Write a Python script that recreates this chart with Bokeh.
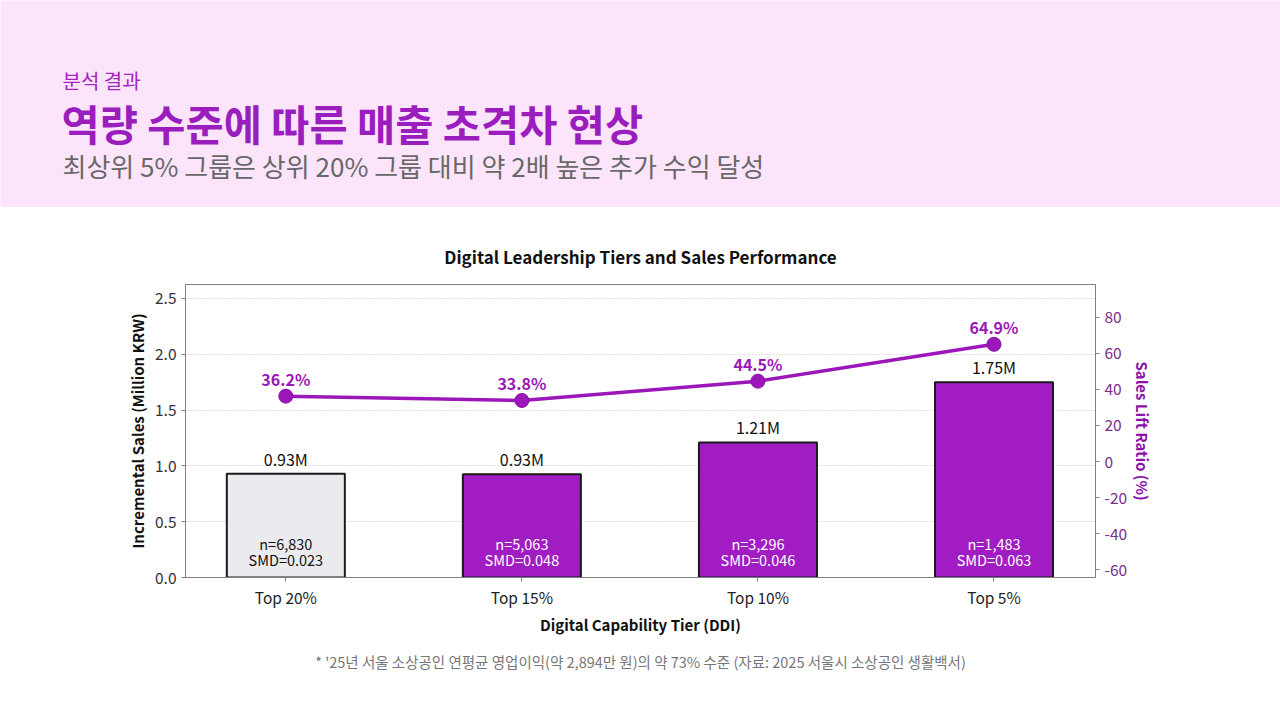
from bokeh.plotting import figure
from bokeh.models import (Range1d, LinearAxis, FixedTicker, NumeralTickFormatter,
                          Title, ColumnDataSource)
from bokeh.layouts import column
from bokeh.core.properties import value
from bokeh.embed import file_html
from bokeh.resources import INLINE

# ---------------- data ----------------
tiers = ["Top 20%", "Top 15%", "Top 10%", "Top 5%"]
sales = [0.93, 0.925, 1.21, 1.75]
sales_labels = ["0.93M", "0.93M", "1.21M", "1.75M"]
lift = [36.2, 33.8, 44.5, 64.9]
lift_labels = ["36.2%", "33.8%", "44.5%", "64.9%"]
n_labels = ["n=6,830", "n=5,063", "n=3,296", "n=1,483"]
smd_labels = ["SMD=0.023", "SMD=0.048", "SMD=0.046", "SMD=0.063"]
left_ticks = [0.0, 0.5, 1.0, 1.5, 2.0, 2.5]
right_ticks = [-60, -40, -20, 0, 20, 40, 60, 80]

eyebrow = "분석 결과"
headline = "역량 수준에 따른 매출 초격차 현상"
subline = "최상위 5% 그룹은 상위 20% 그룹 대비 약 2배 높은 추가 수익 달성"
chart_title = "Digital Leadership Tiers and Sales Performance"
footnote = "* '25년 서울 소상공인 연평균 영업이익(약 2,894만 원)의 약 73% 수준 (자료: 2025 서울시 소상공인 생활백서)"

KR = "Noto Sans CJK KR"
PINK = "#fce5fb"
PURPLE = "#a21cc4"
LINE_PURPLE = "#9c17b9"

# ---------------- header ----------------
W = 1280
HH = 207
hdr = figure(width=W, height=HH, x_range=Range1d(0, W), y_range=Range1d(0, HH),
             x_axis_type=None, y_axis_type=None, toolbar_location=None,
             output_backend="svg", min_border=0)
hdr.frame_align = False
hdr.grid.visible = False
hdr.outline_line_color = None
hdr.background_fill_color = PINK
hdr.border_fill_color = PINK

hdr.text(x=[62], y=[127], text=[eyebrow], text_font=value(KR), text_font_size="20px",
         text_color="#a424c4", text_baseline="middle", text_align="left")
hdr.text(x=[61], y=[85], text=[headline], text_font=value(KR), text_font_size="41.5px",
         text_font_style="bold", text_color="#9a1dbd", text_baseline="middle", text_align="left")
hdr.text(x=[62], y=[42], text=[subline], text_font=value(KR), text_font_size="26px",
         text_color="#686868", text_baseline="middle", text_align="left")

# ---------------- chart ----------------
xs = list(range(len(tiers)))
bar_colors = ["#ebebef"] + [PURPLE] * (len(tiers) - 1)
inner_colors = ["#111111"] + ["#ffffff"] * (len(tiers) - 1)

src = ColumnDataSource(dict(x=xs, sales=sales, sales_labels=sales_labels, lift=lift,
                            lift_labels=lift_labels, n=n_labels, smd=smd_labels,
                            color=bar_colors, inner=inner_colors, zero=[0] * len(xs)))

p = figure(width=W, height=720 - HH, x_range=Range1d(-0.425, 3.43), y_range=Range1d(0, 2.625),
           toolbar_location=None, output_backend="svg",
           min_border_left=185, min_border_right=185, min_border_top=77, min_border_bottom=143)
p.frame_align = False
p.extra_y_ranges = {"lift": Range1d(-64.2, 98.0)}
p.background_fill_color = "white"
p.border_fill_color = "white"
p.outline_line_color = "#808080"
p.outline_line_width = 1

t = Title(text=chart_title, align="center", text_font=KR, text_font_size="17px",
          text_font_style="bold", text_color="#111111", standoff=32)
p.add_layout(t, "above")

# grid
p.xgrid.visible = False
p.ygrid.ticker = FixedTicker(ticks=left_ticks)
p.ygrid.grid_line_color = "#c4c4c4"
p.ygrid.grid_line_dash = "1 2"

# bars
p.vbar(x="x", top="sales", width=0.5, source=src, fill_color="color",
       line_color="#1a1a1a", line_width=2)
p.text(x="x", y="sales", text="sales_labels", source=src, text_font=value(KR),
       text_font_size="16px", text_color="#111111", text_align="center",
       text_baseline="bottom", y_offset=-3)
p.text(x="x", y="zero", text="n", source=src, text_font=value(KR),
       text_font_size="14.5px", text_color="inner", text_align="center",
       text_baseline="middle", y_offset=-34)
p.text(x="x", y="zero", text="smd", source=src, text_font=value(KR),
       text_font_size="14.5px", text_color="inner", text_align="center",
       text_baseline="middle", y_offset=-18)

# line
p.line(x="x", y="lift", source=src, y_range_name="lift", line_color=LINE_PURPLE,
       line_width=3.5)
p.scatter(x="x", y="lift", source=src, y_range_name="lift", size=14,
          fill_color=LINE_PURPLE, line_color="#8a10a5", line_width=1)
p.text(x="x", y="lift", text="lift_labels", source=src, y_range_name="lift",
       text_font=value(KR), text_font_size="16px", text_font_style="bold",
       text_color=LINE_PURPLE, text_align="center", text_baseline="middle", y_offset=-17)

# axes
xa = p.xaxis[0]
xa.ticker = FixedTicker(ticks=xs)
xa.major_label_overrides = {i: s for i, s in zip(xs, tiers)}
xa.axis_label = "Digital Capability Tier (DDI)"
xa.axis_label_text_font = KR
xa.axis_label_text_font_size = "15px"
xa.axis_label_text_font_style = "bold"
xa.axis_label_text_color = "#111111"
xa.axis_label_standoff = 3
xa.major_label_text_font = KR
xa.major_label_text_font_size = "15.5px"
xa.major_label_text_color = "#222222"
xa.major_label_standoff = 4
xa.minor_tick_line_color = None
xa.major_tick_in = 0
xa.major_tick_out = 4
xa.major_tick_line_color = "#808080"
xa.axis_line_color = "#808080"

ya = p.yaxis[0]
ya.ticker = FixedTicker(ticks=left_ticks)
ya.formatter = NumeralTickFormatter(format="0.0")
ya.axis_label = "Incremental Sales (Million KRW)"
ya.axis_label_text_font = KR
ya.axis_label_text_font_size = "15px"
ya.axis_label_text_font_style = "bold"
ya.axis_label_text_color = "#111111"
ya.axis_label_standoff = 4
ya.major_label_text_font = KR
ya.major_label_text_font_size = "15.5px"
ya.major_label_text_color = "#333333"
ya.minor_tick_line_color = None
ya.major_tick_in = 0
ya.major_tick_out = 4
ya.major_tick_line_color = "#808080"
ya.axis_line_color = "#808080"

ra = LinearAxis(y_range_name="lift", ticker=FixedTicker(ticks=right_ticks))
ra.major_label_overrides = {v: str(v) for v in right_ticks}
ra.axis_label = "Sales Lift Ratio (%)"
ra.axis_label_text_font = KR
ra.axis_label_text_font_size = "15px"
ra.axis_label_text_font_style = "bold"
ra.axis_label_text_color = "#8a12a8"
ra.axis_label_standoff = 2
ra.major_label_text_font = KR
ra.major_label_text_font_size = "15.5px"
ra.major_label_text_color = "#7b2d8e"
ra.minor_tick_line_color = None
ra.major_tick_in = 0
ra.major_tick_out = 4
ra.major_tick_line_color = "#808080"
ra.axis_line_color = "#808080"
p.add_layout(ra, "right")

fn = Title(text=footnote, align="center", text_font=KR, text_font_size="14.5px",
           text_font_style="normal", text_color="#777777", standoff=22)
p.add_layout(fn, "below")

layout = column(hdr, p, spacing=0)
open("out.html", "w").write(file_html(layout, INLINE))
